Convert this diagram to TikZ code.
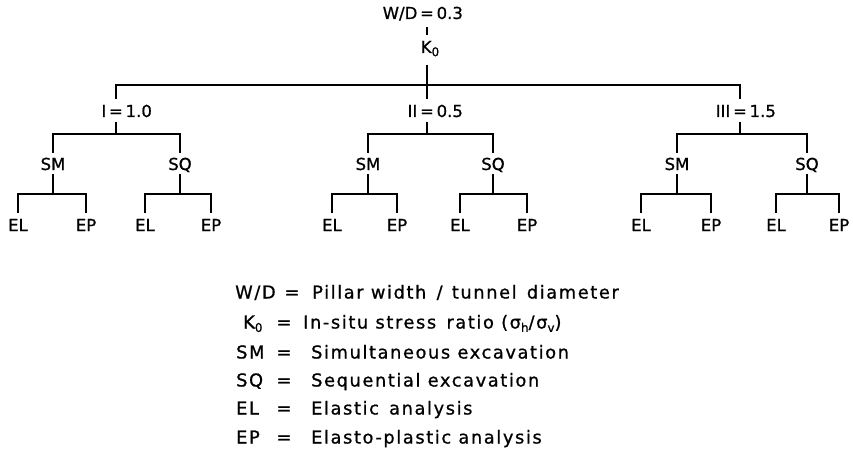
\documentclass[tikz,border=0pt]{standalone}
\usepackage{fontspec}
\setmainfont{DejaVu Sans}[FakeBold=0.9]
\newfontfamily\legfont{DejaVu Sans}[LetterSpace=9,FakeBold=0.9]
\newcommand{\subz}[1]{\raisebox{-0.35ex}{\fontsize{12}{12}\selectfont #1}}
\begin{document}
\begin{tikzpicture}[x=1pt,y=-1pt,
  lab/.style={inner sep=0pt, text height=12pt, text depth=0pt, font=\fontsize{16.5}{18}\selectfont},
  leg/.style={inner sep=0pt, anchor=west, text height=13pt, text depth=0pt, font=\legfont\fontsize{17.8}{20}\selectfont},
  legeq/.style={leg, anchor=center},
  link/.style={line width=2.1pt}]
\useasboundingbox (0,0) rectangle (853,468);
% top
\node[lab] (WD) at (427,13) {\llap{W/D\,}=\rlap{\,0.3}};
\node[lab] (K) at (430,47) {K\subz{0}};
\draw[link, shorten <=8pt, shorten >=6pt] (WD.south) -- (WD.south |- K.north);
% level 1
\node[lab] (I) at (116,111) {\llap{I\,}=\rlap{\,1.0}};
\node[lab] (II) at (427,111) {\llap{II\,}=\rlap{\,0.5}};
\node[lab] (III) at (740,111) {\llap{III\,}=\rlap{\,1.5}};
\coordinate (tb) at (427,85);
\draw[link, shorten <=12pt, shorten >=6pt] (K.south -| II.north) -- (II.north);
\draw[link, shorten <=6pt, shorten >=6pt] (I.north) |- (tb) -| (III.north);
% level 2
\foreach \g/\r/\a/\b in {1/I/53/180, 2/II/368/493, 3/III/677/807}{
  \node[lab] (SM\g) at (\a,164) {SM};
  \node[lab] (SQ\g) at (\b,164) {SQ};
  \coordinate (b\g) at (\r.south |- 0,134);
  \draw[link, shorten <=5pt] (\r.south) -- (b\g);
  \draw[link, shorten <=5pt, shorten >=5pt] (SM\g.north) |- (b\g) -| (SQ\g.north);
}
% level 3
\foreach \p/\a/\b in {SM1/18/86, SQ1/145/211, SM2/332/397, SQ2/460/527, SM3/641/711, SQ3/776/839}{
  \node[lab] (EL\p) at (\a,225) {EL};
  \node[lab] (EP\p) at (\b,225) {EP};
  \coordinate (c\p) at (\p.south |- 0,194);
  \draw[link, shorten <=4pt] (\p.south) -- (c\p);
  \draw[link, shorten <=6pt, shorten >=6pt] (EL\p.north) |- (c\p) -| (EP\p.north);
}
% legend
\node[leg] (k1) at (235,292) {W/D};
\node[legeq] (e1) at (292,292) {=};
\node[leg] (d1) at (312,292) {Pillar width\hspace{3pt} / \hspace{2pt}tunnel\hspace{3pt} diameter};
\node[leg] (k2) at (243,322) {K\subz{0}};
\node[legeq] (e2) at (284,322) {=};
\node[leg] (d2) at (303,322) {In-situ stress\hspace{3pt} ratio (σ\subz{h}/σ\subz{v})};
\node[leg] (k3) at (236,352) {SM};
\node[legeq] (e3) at (284,352) {=};
\node[leg] (d3) at (311,352) {Simultaneous excavation};
\node[leg] (k4) at (236,380) {SQ};
\node[legeq] (e4) at (284,380) {=};
\node[leg] (d4) at (311,380) {Sequential excavation};
\node[leg] (k5) at (236,408) {EL};
\node[legeq] (e5) at (284,408) {=};
\node[leg] (d5) at (311,408) {Elastic\hspace{3pt} analysis};
\node[leg] (k6) at (236,437) {EP};
\node[legeq] (e6) at (284,437) {=};
\node[leg] (d6) at (311,437) {Elasto-plastic analysis};
\end{tikzpicture}
\end{document}
